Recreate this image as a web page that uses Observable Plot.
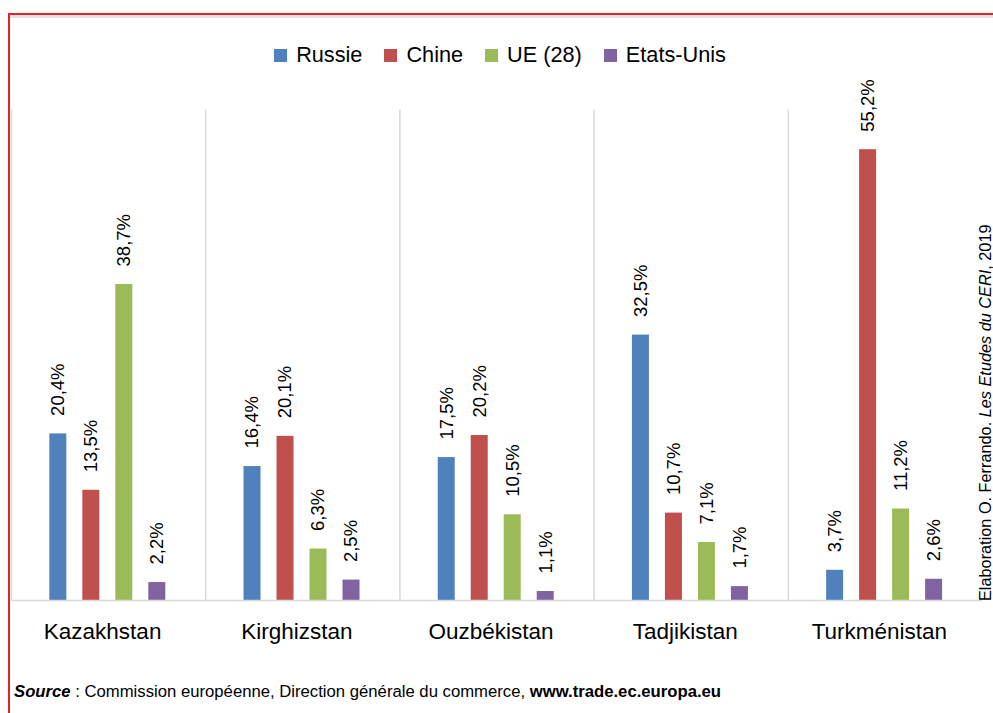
<!DOCTYPE html>
<html>
<head>
<meta charset="utf-8">
<script src="https://cdn.jsdelivr.net/npm/d3@7"></script>
<script src="https://cdn.jsdelivr.net/npm/@observablehq/plot@0.6"></script>
<style>
  html, body { margin: 0; padding: 0; background: #fff; }
  body { width: 993px; height: 713px; position: relative; overflow: hidden;
         font-family: "Liberation Sans", Arial, sans-serif; color: #000; }
  #chart { position: absolute; left: 0; top: 0; }
  #border { position: absolute; left: 8px; top: 13px; right: -5px; bottom: -5px;
            border-top: 2px solid #e4202b; border-left: 2px solid #e4202b; }
  #shadow { position: absolute; left: 10px; top: 15px; right: 0; height: 3px; background: #e2e2e2; }
  #legend { position: absolute; top: 42px; left: 0; width: 1000px; display: flex; justify-content: center;
            font-size: 21.7px; }
  .item { display: flex; align-items: center; margin: 0 11px; }
  .sw { width: 13px; height: 13px; margin-right: 9px; }
  #caption { position: absolute; left: 0; top: 0; transform-origin: 0 0;
             transform: translate(976px, 601px) rotate(-90deg); white-space: nowrap; font-size: 16.3px; }
  #source { position: absolute; left: 14px; top: 682px; font-size: 16.7px; white-space: nowrap; }
</style>
</head>
<body>
<div id="shadow"></div>
<div id="border"></div>
<div id="chart"></div>
<div id="legend"></div>
<div id="caption">Elaboration O. Ferrando. <i>Les Etudes du CERI</i>, 2019</div>
<div id="source"><b><i>Source</i></b> : Commission européenne, Direction générale du commerce, <b>www.trade.ec.europa.eu</b></div>
<script>
const countries = ["Kazakhstan", "Kirghizstan", "Ouzbékistan", "Tadjikistan", "Turkménistan"];
const series = ["Russie", "Chine", "UE (28)", "Etats-Unis"];
const russie = [20.4, 16.4, 17.5, 32.5, 3.7];
const chine = [13.5, 20.1, 20.2, 10.7, 55.2];
const ue = [38.7, 6.3, 10.5, 7.1, 11.2];
const etatsUnis = [2.2, 2.5, 1.1, 1.7, 2.6];
const colors = ["#4f81bd", "#c0504d", "#9bbb59", "#8064a2"];

const valuesBySeries = [russie, chine, ue, etatsUnis];
const data = [];
countries.forEach((c, i) => {
  series.forEach((s, j) => data.push({country: c, series: s, value: valuesBySeries[j][i]}));
});
const fmt = v => v.toFixed(1).replace(".", ",") + "%";

const chart = Plot.plot({
  width: 993,
  height: 713,
  marginTop: 110,
  marginBottom: 113,
  marginLeft: 11,
  marginRight: 11,
  style: {fontFamily: "'Liberation Sans', Arial, sans-serif", background: "transparent"},
  fx: {domain: countries, paddingInner: 0, paddingOuter: 0, round: false, axis: null},
  x: {domain: series, paddingInner: 0.485, paddingOuter: 1.185, align: 0.49, round: false, axis: null},
  y: {domain: [0, 60], axis: null},
  color: {domain: series, range: colors},
  marks: [
    Plot.frame({anchor: "left", stroke: "#d9d9d9", strokeWidth: 1.5}),
    Plot.barY(data, {fx: "country", x: "series", y: "value", fill: "series"}),
    Plot.ruleY([0], {stroke: "#d9d9d9", strokeWidth: 1.5}),
    Plot.text(data, {fx: "country", x: "series", y: "value", text: d => fmt(d.value),
      rotate: -90, textAnchor: "start", lineAnchor: "middle", dy: -18, fontSize: 18.5, fill: "#000"}),
    Plot.text(countries, {fx: d => d, text: d => d, frameAnchor: "bottom", lineAnchor: "top",
      dx: -6, dy: 23, fontSize: 22.5, fill: "#000"})
  ]
});
document.getElementById("chart").appendChild(chart);

const legend = document.getElementById("legend");
series.forEach((s, j) => {
  const it = document.createElement("div");
  it.className = "item";
  it.innerHTML = `<span class="sw" style="background:${colors[j]}"></span><span>${s}</span>`;
  legend.appendChild(it);
});
</script>
</body>
</html>
